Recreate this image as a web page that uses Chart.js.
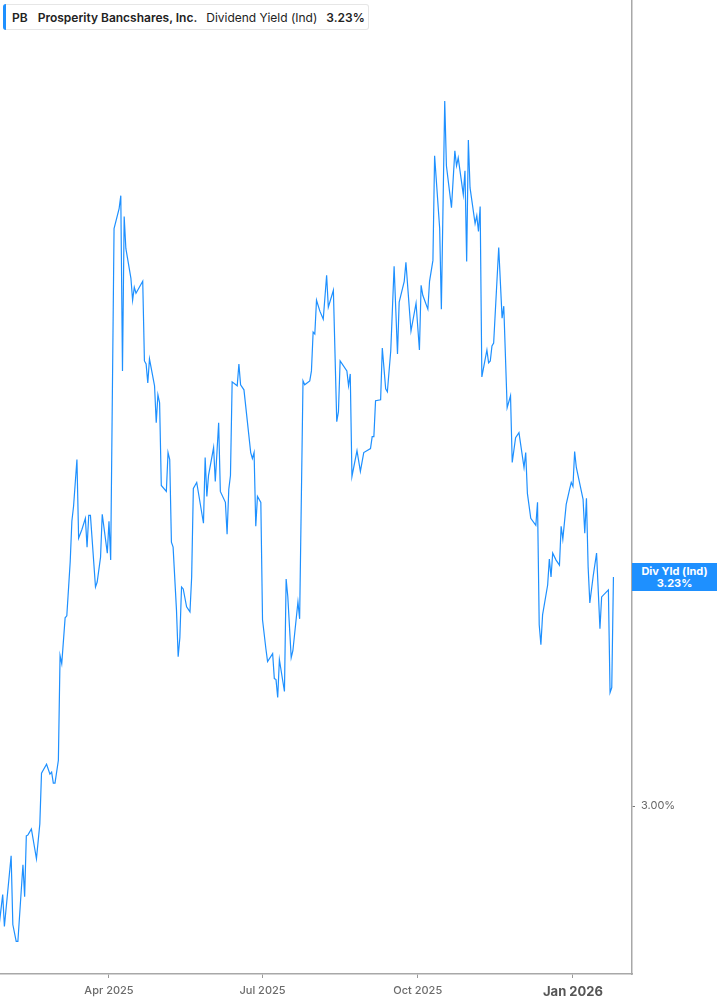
<!DOCTYPE html>
<html>
<head>
<meta charset="utf-8">
<script src="https://cdn.jsdelivr.net/npm/chart.js@4.4.1/dist/chart.umd.min.js"></script>
<style>
  html, body { margin:0; padding:0; background:#fff; }
  #wrap { position:relative; width:717px; height:1005px; overflow:hidden; }
  #c { position:absolute; left:0; top:0; }
  #hdr { position:absolute; left:3px; top:4px; height:26px; width:366px; box-sizing:border-box;
         border:1px solid #e6e6e6; border-left:none; border-radius:3px; background:#fff;
         font-family:Inter, "Noto Sans", sans-serif; font-size:12px; color:#222;
         display:flex; align-items:center; white-space:nowrap; }
  #hdr .bar { width:3px; height:26px; background:#1E90FF; border-radius:3px 0 0 3px; margin-right:6px; }
  #hdr .b { font-weight:600; }
  #hdr .s1 { margin-right:10px; }
  #hdr .s2 { margin-right:9px; }
  #hdr .s3 { margin-right:9px; }
  #val { position:absolute; left:632px; width:85px; height:28px; background:#1E90FF; color:#fff;
         font-family:Inter, "Noto Sans", sans-serif; font-size:11px; font-weight:700; line-height:12px;
         text-align:center; display:flex; flex-direction:column; justify-content:center; }
</style>
</head>
<body>
<div id="wrap">
  <canvas id="c" width="717" height="1005"></canvas>
  <div id="hdr"><span class="bar"></span><span class="b s1">PB</span><span class="b s2">Prosperity Bancshares, Inc.</span><span class="s3">Dividend Yield (Ind)</span><span class="b">3.23%</span></div>
  <div id="val"><div>Div Yld (Ind)</div><div>3.23%</div></div>
</div>
<script>
const dates = [
 "2025-01-26","2025-01-28","2025-01-29","2025-02-02","2025-02-03","2025-02-05","2025-02-06","2025-02-09","2025-02-10","2025-02-11",
 "2025-02-12","2025-02-14","2025-02-17","2025-02-19","2025-02-20","2025-02-23","2025-02-25","2025-02-26","2025-02-27","2025-02-28",
 "2025-03-02","2025-03-03","2025-03-04","2025-03-06","2025-03-07","2025-03-09","2025-03-10","2025-03-11","2025-03-13","2025-03-14",
 "2025-03-16","2025-03-18","2025-03-19","2025-03-20","2025-03-21","2025-03-24","2025-03-25","2025-03-27","2025-03-28","2025-03-31",
 "2025-04-01","2025-04-02",
 "2025-04-04","2025-04-07","2025-04-08","2025-04-09","2025-04-10","2025-04-11","2025-04-14","2025-04-15","2025-04-16","2025-04-17",
 "2025-04-21","2025-04-22","2025-04-23","2025-04-24","2025-04-25","2025-04-28","2025-04-29","2025-04-30","2025-05-01","2025-05-02",
 "2025-05-05","2025-05-06","2025-05-07","2025-05-08","2025-05-09","2025-05-11","2025-05-12","2025-05-13","2025-05-14","2025-05-15",
 "2025-05-17","2025-05-19","2025-05-20","2025-05-21","2025-05-23","2025-05-27","2025-05-28","2025-05-29","2025-05-30","2025-06-02",
 "2025-06-03","2025-06-05","2025-06-06","2025-06-09","2025-06-10","2025-06-11","2025-06-12","2025-06-13","2025-06-16","2025-06-17",
 "2025-06-18","2025-06-20","2025-06-24","2025-06-25","2025-06-26","2025-06-27","2025-06-28",
 "2025-06-30","2025-07-01","2025-07-03","2025-07-04","2025-07-07","2025-07-08","2025-07-09","2025-07-10","2025-07-11","2025-07-14",
 "2025-07-15","2025-07-16","2025-07-18","2025-07-19","2025-07-22","2025-07-23","2025-07-25","2025-07-26","2025-07-29","2025-07-30",
 "2025-07-31","2025-08-01","2025-08-02","2025-08-04","2025-08-06","2025-08-08","2025-08-09","2025-08-12","2025-08-14","2025-08-15",
 "2025-08-16","2025-08-20","2025-08-21","2025-08-22","2025-08-23","2025-08-26","2025-08-28","2025-08-30","2025-09-03","2025-09-04",
 "2025-09-05","2025-09-06","2025-09-09","2025-09-10","2025-09-12","2025-09-13","2025-09-15","2025-09-17","2025-09-19","2025-09-20",
 "2025-09-23","2025-09-24",
 "2025-09-27","2025-09-30","2025-10-02","2025-10-03","2025-10-04","2025-10-07","2025-10-08","2025-10-10","2025-10-11","2025-10-14",
 "2025-10-15","2025-10-17","2025-10-18","2025-10-21","2025-10-23","2025-10-24","2025-10-25","2025-10-28","2025-10-29","2025-10-30",
 "2025-10-31","2025-11-01","2025-11-04","2025-11-05","2025-11-06","2025-11-07","2025-11-08","2025-11-11","2025-11-12","2025-11-13",
 "2025-11-14","2025-11-15","2025-11-18","2025-11-20","2025-11-21","2025-11-23","2025-11-25","2025-11-26","2025-11-28","2025-11-30",
 "2025-12-03","2025-12-04","2025-12-05","2025-12-07","2025-12-10","2025-12-11","2025-12-12","2025-12-13","2025-12-14","2025-12-17",
 "2025-12-18","2025-12-19","2025-12-20","2025-12-22","2025-12-24","2025-12-25","2025-12-26","2025-12-28","2025-12-30","2025-12-31",
 "2026-01-01","2026-01-02","2026-01-03","2026-01-07","2026-01-08","2026-01-09","2026-01-10","2026-01-11","2026-01-13","2026-01-15",
 "2026-01-17","2026-01-18","2026-01-22","2026-01-23","2026-01-24","2026-01-25"
];
const divYield = [
 2.882,2.911,2.879,2.950,2.881,2.864,2.864,2.941,2.909,2.970,
 2.971,2.977,2.947,2.982,3.033,3.042,3.032,3.034,3.023,3.023,
 3.046,3.151,3.143,3.189,3.191,3.245,3.286,3.301,3.348,3.269,
 3.278,3.289,3.260,3.292,3.292,3.220,3.225,3.250,3.293,3.254,
 3.286,3.247,
 3.580,3.600,3.613,3.437,3.592,3.560,3.530,3.508,3.521,3.515,
 3.527,3.447,3.444,3.425,3.449,3.422,3.385,3.413,3.405,3.322,
 3.316,3.355,3.348,3.265,3.260,3.197,3.150,3.169,3.220,3.218,
 3.200,3.195,3.230,3.319,3.325,3.284,3.350,3.311,3.332,3.360,
 3.326,3.385,3.316,3.305,3.273,3.318,3.332,3.426,3.422,3.444,
 3.423,3.418,3.355,3.349,3.355,3.281,3.311,
 3.305,3.187,3.158,3.145,3.153,3.128,3.127,3.109,3.147,3.115,
 3.228,3.210,3.149,3.156,3.205,3.188,3.427,3.423,3.427,3.437,
 3.476,3.474,3.508,3.497,3.489,3.533,3.501,3.518,3.386,3.396,
 3.447,3.437,3.422,3.434,3.331,3.357,3.336,3.355,3.359,3.371,
 3.371,3.407,3.408,3.460,3.419,3.416,3.457,3.542,3.454,3.506,
 3.527,3.546,
 3.477,3.505,3.458,3.523,3.513,3.499,3.527,3.548,3.653,3.580,
 3.499,3.708,3.643,3.601,3.658,3.643,3.651,3.614,3.638,3.547,
 3.669,3.621,3.585,3.593,3.577,3.602,3.431,3.458,3.445,3.447,
 3.462,3.465,3.561,3.490,3.502,3.400,3.412,3.345,3.370,3.375,
 3.340,3.355,3.314,3.289,3.282,3.305,3.182,3.162,3.192,3.222,
 3.248,3.230,3.254,3.247,3.242,3.281,3.268,3.303,3.318,3.325,
 3.321,3.356,3.340,3.308,3.274,3.309,3.240,3.204,3.231,3.254,
 3.178,3.210,3.217,3.114,3.119,3.230
];
const xTickDates = ["2025-04-01","2025-07-01","2025-10-01","2026-01-01"];
const xTickLabels = ["Apr 2025","Jul 2025","Oct 2025","Jan 2026"];
const yTicks = [3.00];

const DAY = 86400000;
const X_MIN = Date.UTC(2025,0,1) + 25.4*DAY;
const X_MAX = Date.UTC(2025,0,1) + 400*DAY;
const Y_MIN = 2.8313;
const Y_MAX = 3.8095;

const points = dates.map((d,i) => ({x: Date.parse(d), y: divYield[i]}));

const valuePlugin = {
  id:'valueLabel',
  afterDraw(chart){
    const y = chart.scales.y.getPixelForValue(divYield[divYield.length-1]);
    const el = document.getElementById('val');
    el.style.top = (y - 14) + 'px';
  }
};

function noPad(s){ s.paddingTop = 0; s.paddingBottom = 0; s.paddingLeft = 0; s.paddingRight = 0; }

new Chart(document.getElementById('c'), {
  type:'line',
  data:{ datasets:[{
    data: points,
    borderColor:'#1E90FF',
    borderWidth:1.2,
    pointRadius:0,
    tension:0,
    fill:false
  }]},
  options:{
    responsive:false,
    animation:false,
    maintainAspectRatio:false,
    layout:{ padding:0 },
    plugins:{ legend:{display:false}, tooltip:{enabled:false} },
    scales:{
      x:{
        type:'linear', min:X_MIN, max:X_MAX, position:'bottom',
        afterBuildTicks: s => { s.ticks = xTickDates.map(d => ({value: Date.parse(d)})); },
        afterFit: s => { s.height = 31; noPad(s); },
        grid:{ drawOnChartArea:false, drawTicks:true, tickLength:4, color:'#999', lineWidth:1 },
        border:{ color:'#a8a8a8', width:1.5 },
        ticks:{
          autoSkip:false, maxRotation:0, padding:6,
          callback:(v,i) => xTickLabels[i],
          color: ctx => ctx.index === 3 ? '#555' : '#6b6b6b',
          font: ctx => ctx.index === 3 ? {family:'Inter', size:13, weight:'bold'} : {family:'Inter', size:11, weight:'500'}
        }
      },
      y:{
        type:'linear', position:'right', min:Y_MIN, max:Y_MAX,
        afterBuildTicks: s => { s.ticks = yTicks.map(v => ({value:v})); },
        afterFit: s => { s.width = 85; noPad(s); },
        grid:{ drawOnChartArea:false, drawTicks:true, tickLength:3, color:'#777' },
        border:{ color:'#a8a8a8', width:1.5 },
        ticks:{
          padding:6,
          callback: v => v.toFixed(2) + '%',
          color:'#666',
          font:{family:'Inter', size:11}
        }
      }
    }
  },
  plugins:[valuePlugin]
});
</script>
</body>
</html>
